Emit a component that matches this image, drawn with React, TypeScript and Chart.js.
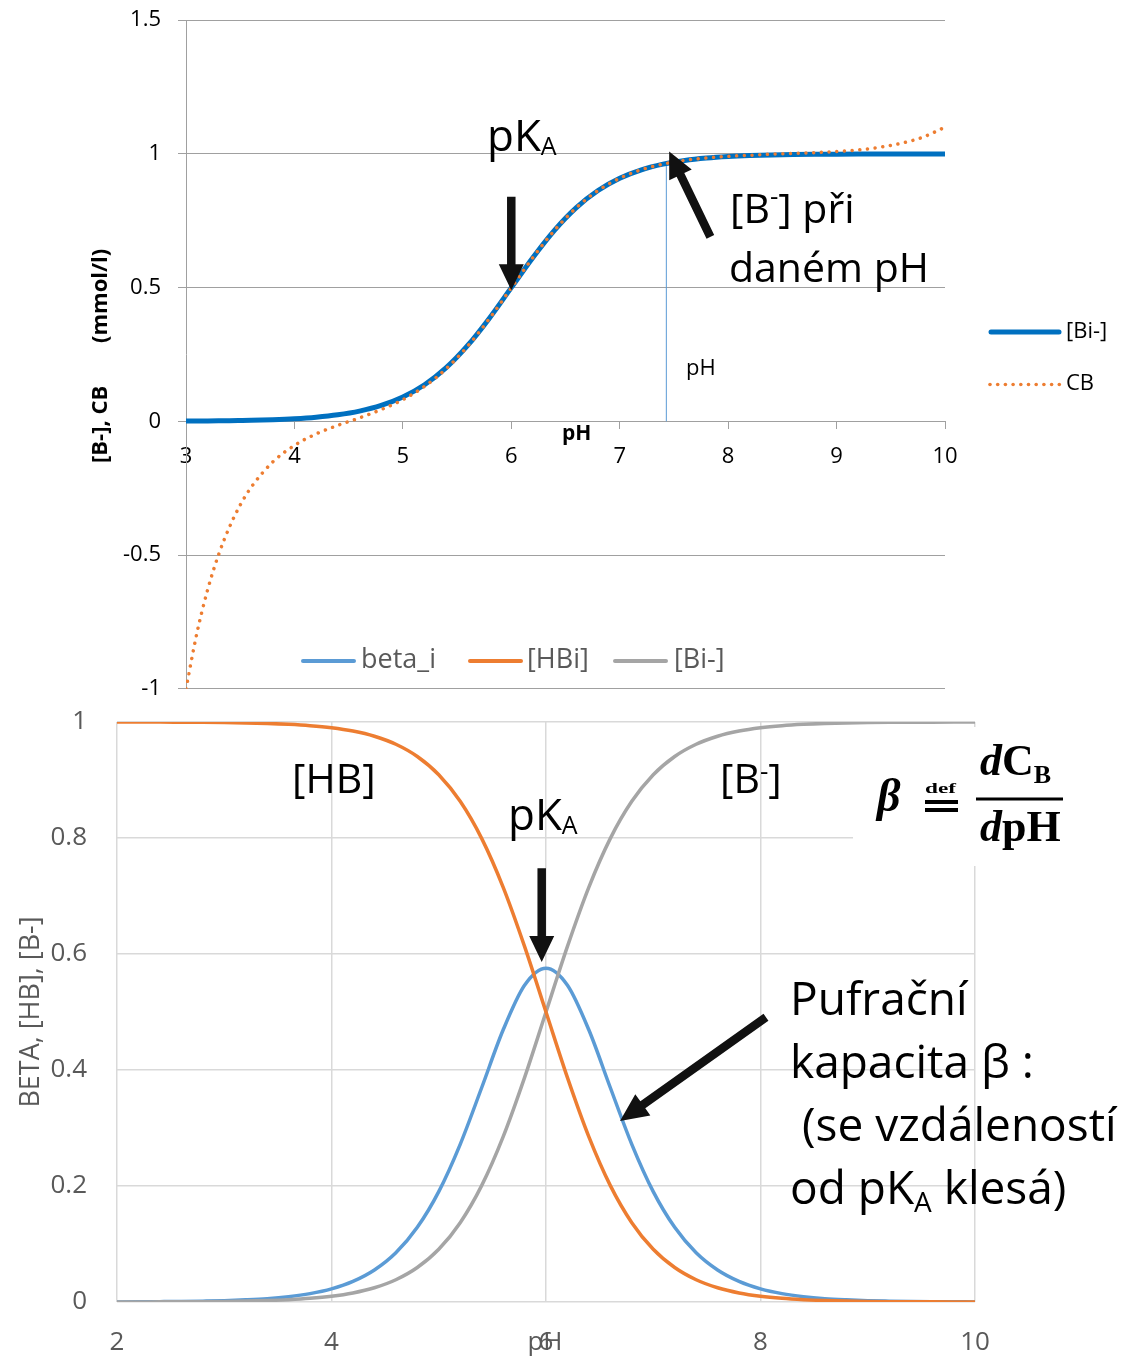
import React, { useEffect, useRef } from "react";
import { Chart, registerables } from "chart.js";

Chart.register(...registerables);

const SANS = "'Open Sans', sans-serif";
const SERIF = "'Liberation Serif', serif";
const TOP_OFF = 10; // top canvas is shifted up by this many pixels

// ---------- top chart data ----------
const topPH = [3, 3.1, 3.2, 3.3, 3.4, 3.5, 3.6, 3.8, 4, 4.2, 4.4, 4.6, 4.8, 5, 5.2, 5.4, 5.6, 5.8, 6, 6.2, 6.4, 6.6, 6.8, 7, 7.2, 7.4, 7.6, 7.8, 8, 8.2, 8.4, 8.6, 8.8, 9, 9.2, 9.4, 9.6, 9.8, 10];
const topBi = [0.001, 0.0013, 0.0016, 0.002, 0.0025, 0.0032, 0.004, 0.0063, 0.0099, 0.0156, 0.0245, 0.0383, 0.0594, 0.0909, 0.1368, 0.2007, 0.2847, 0.3869, 0.5, 0.6131, 0.7153, 0.7993, 0.8632, 0.9091, 0.9406, 0.9617, 0.9755, 0.9844, 0.9901, 0.9937, 0.996, 0.9975, 0.9984, 0.999, 0.9994, 0.9996, 0.9997, 0.9998, 0.9999];
const topCB = [-1.0, -0.793, -0.629, -0.499, -0.396, -0.313, -0.247, -0.152, -0.09, -0.047, -0.015, 0.013, 0.044, 0.081, 0.131, 0.197, 0.282, 0.385, 0.499, 0.613, 0.715, 0.799, 0.863, 0.909, 0.941, 0.962, 0.976, 0.985, 0.991, 0.995, 0.999, 1.002, 1.005, 1.009, 1.015, 1.025, 1.04, 1.063, 1.1];
const markerPH = [7.43, 7.43];
const markerY = [0, 0.965];
const topXTicks = [3, 4, 5, 6, 7, 8, 9, 10];
const topYTicks = [-1, -0.5, 0, 0.5, 1, 1.5];

// ---------- bottom chart data ----------
const botPH = [2, 2.2, 2.4, 2.6, 2.8, 3, 3.2, 3.4, 3.6, 3.8, 4, 4.2, 4.4, 4.6, 4.8, 5, 5.2, 5.4, 5.6, 5.8, 6, 6.2, 6.4, 6.6, 6.8, 7, 7.2, 7.4, 7.6, 7.8, 8, 8.2, 8.4, 8.6, 8.8, 9, 9.2, 9.4, 9.6, 9.8, 10];
const botBeta = [0.0002, 0.0004, 0.0006, 0.0009, 0.0015, 0.0023, 0.0037, 0.0057, 0.0091, 0.0144, 0.0226, 0.0354, 0.0551, 0.0848, 0.1287, 0.1903, 0.2719, 0.3694, 0.4689, 0.5462, 0.5756, 0.5462, 0.4689, 0.3694, 0.2719, 0.1903, 0.1287, 0.0848, 0.0551, 0.0354, 0.0226, 0.0144, 0.0091, 0.0057, 0.0037, 0.0023, 0.0015, 0.0009, 0.0006, 0.0004, 0.0002];
const botHB = [0.9999, 0.9998, 0.9998, 0.9996, 0.9994, 0.999, 0.9984, 0.9975, 0.996, 0.9937, 0.9901, 0.9844, 0.9755, 0.9617, 0.9406, 0.9091, 0.8632, 0.7993, 0.7153, 0.6131, 0.5, 0.3869, 0.2847, 0.2007, 0.1368, 0.0909, 0.0594, 0.0383, 0.0245, 0.0156, 0.0099, 0.0063, 0.004, 0.0025, 0.0016, 0.001, 0.0006, 0.0004, 0.0003, 0.0002, 0.0001];
const botB = [0.0001, 0.00016, 0.00025, 0.0004, 0.00063, 0.001, 0.0016, 0.0025, 0.004, 0.0063, 0.0099, 0.0156, 0.0245, 0.0383, 0.0594, 0.0909, 0.1368, 0.2007, 0.2847, 0.3869, 0.5, 0.6131, 0.7153, 0.7993, 0.8632, 0.9091, 0.9406, 0.9617, 0.9755, 0.9844, 0.9901, 0.9937, 0.996, 0.9975, 0.9984, 0.999, 0.9994, 0.9996, 0.9997, 0.9998, 0.9999];
const botXTicks = [2, 4, 6, 8, 10];
const botYTicks = [0, 0.2, 0.4, 0.6, 0.8, 1];

const pts = (xs: number[], ys: number[]) => xs.map((x, i) => ({ x, y: ys[i] }));

type Part = [string, string, number];
function rich(ctx: CanvasRenderingContext2D, x: number, y: number, parts: Part[]) {
  let cx = x;
  for (const [t, f, dy] of parts) {
    ctx.font = f;
    ctx.fillText(t, cx, y + dy);
    cx += ctx.measureText(t).width;
  }
}

function arrow(ctx: CanvasRenderingContext2D, x1: number, y1: number, x2: number, y2: number, w = 8.5, hl = 26, hw = 25) {
  const ang = Math.atan2(y2 - y1, x2 - x1);
  const len = Math.hypot(x2 - x1, y2 - y1);
  ctx.save();
  ctx.translate(x1, y1);
  ctx.rotate(ang);
  ctx.beginPath();
  ctx.moveTo(0, -w / 2);
  ctx.lineTo(len - hl, -w / 2);
  ctx.lineTo(len - hl, -hw / 2);
  ctx.lineTo(len, 0);
  ctx.lineTo(len - hl, hw / 2);
  ctx.lineTo(len - hl, w / 2);
  ctx.lineTo(0, w / 2);
  ctx.closePath();
  ctx.fillStyle = "#111";
  ctx.fill();
  ctx.restore();
}

const topOverlay = {
  id: "topOverlay",
  afterDatasetsDraw(chart: any) {
    const ctx: CanvasRenderingContext2D = chart.ctx;
    const X = (v: number) => chart.scales.x.getPixelForValue(v);
    const Y = (v: number) => chart.scales.y.getPixelForValue(v);
    ctx.save();
    arrow(ctx, X(6.0), Y(0.84), X(6.0), Y(0.49));
    arrow(ctx, X(7.836), Y(0.69), X(7.456), Y(1.009));
    ctx.translate(0, TOP_OFF);
    ctx.fillStyle = "#000";
    ctx.textAlign = "left";
    ctx.textBaseline = "alphabetic";
    rich(ctx, 487, 151, [["pK", `44px ${SANS}`, 0], ["A", `25px ${SANS}`, 4]]);
    rich(ctx, 730, 223, [["[B", `41px ${SANS}`, 0], ["-", `26px ${SANS}`, -18], ["] při", `41px ${SANS}`, 0]]);
    rich(ctx, 729, 282, [["daném pH", `41px ${SANS}`, 0]]);
    rich(ctx, 686, 375, [["pH", `22px ${SANS}`, 0]]);
    rich(ctx, 562, 440, [["pH", `bold 21px ${SANS}`, 0]]);
    // y axis title (rotated)
    ctx.font = `bold 22px ${SANS}`;
    ctx.save();
    ctx.translate(107, 463);
    ctx.rotate(-Math.PI / 2);
    ctx.fillText("[B-], CB", 0, 0);
    ctx.restore();
    ctx.save();
    ctx.translate(107, 343);
    ctx.rotate(-Math.PI / 2);
    ctx.fillText("(mmol/l)", 0, 0);
    ctx.restore();
    // legend
    ctx.lineCap = "round";
    ctx.strokeStyle = "#0070c0";
    ctx.lineWidth = 5;
    ctx.beginPath();
    ctx.moveTo(991, 332);
    ctx.lineTo(1059, 332);
    ctx.stroke();
    ctx.fillStyle = "#ed7d31";
    for (let i = 0; i < 10; i++) {
      ctx.beginPath();
      ctx.arc(990 + i * 7.7, 384.5, 1.8, 0, Math.PI * 2);
      ctx.fill();
    }
    ctx.fillStyle = "#000";
    ctx.textBaseline = "middle";
    ctx.font = `22px ${SANS}`;
    ctx.fillText("[Bi-]", 1066, 332);
    ctx.fillText("CB", 1066, 384);
    ctx.restore();
  },
};

const botOverlay = {
  id: "botOverlay",
  afterDatasetsDraw(chart: any) {
    const ctx: CanvasRenderingContext2D = chart.ctx;
    const X = (v: number) => chart.scales.x.getPixelForValue(v);
    const Y = (v: number) => chart.scales.y.getPixelForValue(v);
    ctx.save();
    // formula white box
    ctx.fillStyle = "#fff";
    ctx.fillRect(853, 97, 230, 139);
    // legend
    const leg: [string, string, number, number][] = [
      ["beta_i", "#5b9bd5", 303, 361],
      ["[HBi]", "#ed7d31", 470, 527],
      ["[Bi-]", "#a5a5a5", 615, 674],
    ];
    ctx.lineCap = "round";
    ctx.lineWidth = 4;
    ctx.textBaseline = "middle";
    ctx.textAlign = "left";
    ctx.font = `27px ${SANS}`;
    for (const [t, c, x0, tx] of leg) {
      ctx.strokeStyle = c;
      ctx.beginPath();
      ctx.moveTo(x0, 31);
      ctx.lineTo(x0 + 51, 31);
      ctx.stroke();
      ctx.fillStyle = "#595959";
      ctx.fillText(t, tx, 30);
    }
    // x axis title overlapping "6"
    ctx.textAlign = "center";
    ctx.font = `26px ${SANS}`;
    ctx.fillStyle = "#595959";
    ctx.fillText("pH", 545, 713);
    // arrows
    arrow(ctx, X(5.96), Y(0.748), X(5.96), Y(0.586));
    arrow(ctx, X(8.051), Y(0.491), X(6.69), Y(0.312), 8.5, 28, 26);
    // annotations
    ctx.fillStyle = "#000";
    ctx.textAlign = "left";
    ctx.textBaseline = "alphabetic";
    rich(ctx, 292, 163, [["[HB]", `41px ${SANS}`, 0]]);
    rich(ctx, 720, 163, [["[B", `41px ${SANS}`, 0], ["-", `26px ${SANS}`, -13], ["]", `41px ${SANS}`, 0]]);
    rich(ctx, 508, 200, [["pK", `44px ${SANS}`, 0], ["A", `25px ${SANS}`, 4]]);
    const F46 = `46px ${SANS}`;
    rich(ctx, 790, 385, [["Pufrační", F46, 0]]);
    rich(ctx, 790, 448, [["kapacita β :", F46, 0]]);
    rich(ctx, 790, 511, [[" (se vzdáleností", F46, 0]]);
    rich(ctx, 790, 574, [["od pK", F46, 0], ["A", `28px ${SANS}`, 8], [" klesá)", F46, 0]]);
    // formula
    const BI = `bold italic 46px ${SERIF}`;
    const B = `bold 44px ${SERIF}`;
    rich(ctx, 877, 181, [["β", BI, 0]]);
    ctx.save();
    ctx.translate(925, 163);
    ctx.scale(1.55, 1);
    ctx.font = `bold 15px ${SERIF}`;
    ctx.fillText("def", 0, 0);
    ctx.restore();
    ctx.fillRect(925, 170, 33, 4);
    ctx.fillRect(925, 178, 33, 4);
    rich(ctx, 980, 145, [["d", `bold italic 44px ${SERIF}`, 0], ["C", B, 0], ["B", `bold 26px ${SERIF}`, 8]]);
    ctx.fillRect(976, 167.5, 87, 3);
    rich(ctx, 980, 211, [["d", `bold italic 44px ${SERIF}`, 0], ["pH", B, 0]]);
    ctx.restore();
  },
};

export default function App() {
  const topRef = useRef<HTMLCanvasElement>(null);
  const botRef = useRef<HTMLCanvasElement>(null);

  useEffect(() => {
    Chart.defaults.font.family = SANS;
    const top = new Chart(topRef.current!, {
      type: "line",
      data: {
        datasets: [
          {
            label: "CB",
            data: pts(topPH, topCB),
            borderColor: "#ed7d31",
            borderWidth: 3.5,
            borderDash: [0.01, 7.7],
            borderCapStyle: "round",
            pointRadius: 0,
            cubicInterpolationMode: "monotone",
          },
          {
            label: "[Bi-]",
            data: pts(topPH, topBi),
            borderColor: "#0070c0",
            borderWidth: 5,
            pointRadius: 0,
            cubicInterpolationMode: "monotone",
          },
          {
            label: "pH",
            data: pts(markerPH, markerY),
            borderColor: "#5b9bd5",
            borderWidth: 1,
            pointRadius: 0,
          },
        ],
      },
      options: {
        responsive: false,
        animation: false,
        events: [],
        layout: { padding: { left: 0, top: 20, right: 182, bottom: 20 } },
        plugins: { legend: { display: false }, tooltip: { enabled: false } },
        scales: {
          x: {
            type: "linear",
            position: { y: 0 } as any,
            min: 3,
            max: 10,
            afterBuildTicks: (s: any) => {
              s.ticks = topXTicks.map((v) => ({ value: v }));
            },
            ticks: { color: "#000", font: { size: 22 }, padding: 14, callback: (v: any) => String(v) },
            grid: { drawOnChartArea: false, drawTicks: true, tickLength: 8, color: "#a0a0a0" },
            border: { display: false },
          },
          y: {
            type: "linear",
            min: -1,
            max: 1.5,
            afterBuildTicks: (s: any) => {
              s.ticks = topYTicks.map((v) => ({ value: v }));
            },
            afterFit: (s: any) => {
              s.width = 186;
            },
            ticks: { color: "#000", font: { size: 22 }, padding: 17, callback: (v: any) => String(v) },
            grid: { color: "#a0a0a0", tickLength: 8, drawTicks: true },
            border: { display: true, color: "#a0a0a0" },
          },
        },
      },
      plugins: [topOverlay],
    } as any);

    const bot = new Chart(botRef.current!, {
      type: "line",
      data: {
        datasets: [
          {
            label: "[HBi]",
            data: pts(botPH, botHB),
            borderColor: "#ed7d31",
            borderWidth: 3.5,
            pointRadius: 0,
            cubicInterpolationMode: "monotone",
          },
          {
            label: "[Bi-]",
            data: pts(botPH, botB),
            borderColor: "#a5a5a5",
            borderWidth: 3.5,
            pointRadius: 0,
            cubicInterpolationMode: "monotone",
          },
          {
            label: "beta_i",
            data: pts(botPH, botBeta),
            borderColor: "#5b9bd5",
            borderWidth: 3.5,
            pointRadius: 0,
            cubicInterpolationMode: "monotone",
          },
        ],
      },
      options: {
        responsive: false,
        animation: false,
        events: [],
        layout: { padding: { left: 0, top: 92, right: 152, bottom: 0 } },
        plugins: { legend: { display: false }, tooltip: { enabled: false } },
        scales: {
          x: {
            type: "linear",
            position: "bottom",
            min: 2,
            max: 10,
            afterBuildTicks: (s: any) => {
              s.ticks = botXTicks.map((v) => ({ value: v }));
            },
            afterFit: (s: any) => {
              s.height = 54;
            },
            ticks: { color: "#595959", font: { size: 26 }, padding: 25, callback: (v: any) => String(v) },
            grid: { color: "#d9d9d9", lineWidth: 1.5, drawTicks: false },
            border: { display: false },
          },
          y: {
            type: "linear",
            min: 0,
            max: 1,
            afterBuildTicks: (s: any) => {
              s.ticks = botYTicks.map((v) => ({ value: v }));
            },
            afterFit: (s: any) => {
              s.width = 117;
            },
            ticks: {
              color: "#595959",
              font: { size: 26 },
              padding: 30,
              callback: (v: any) => String(Number(Number(v).toFixed(1))),
            },
            title: {
              display: true,
              text: "BETA, [HB], [B-]",
              color: "#595959",
              font: { size: 27 },
              padding: { top: 15, bottom: 0 },
            },
            grid: { color: "#d9d9d9", lineWidth: 1.5, drawTicks: false },
            border: { display: false },
          },
        },
      },
      plugins: [botOverlay],
    } as any);

    return () => {
      top.destroy();
      bot.destroy();
    };
  }, []);

  return (
    <div
      style={{
        position: "absolute",
        left: 0,
        top: 0,
        width: 1127,
        height: 1356,
        background: "#fff",
        overflow: "hidden",
      }}
    >
      <canvas ref={topRef} width={1127} height={729} style={{ position: "absolute", left: 0, top: -TOP_OFF }} />
      <canvas ref={botRef} width={1127} height={726} style={{ position: "absolute", left: 0, top: 630 }} />
    </div>
  );
}
